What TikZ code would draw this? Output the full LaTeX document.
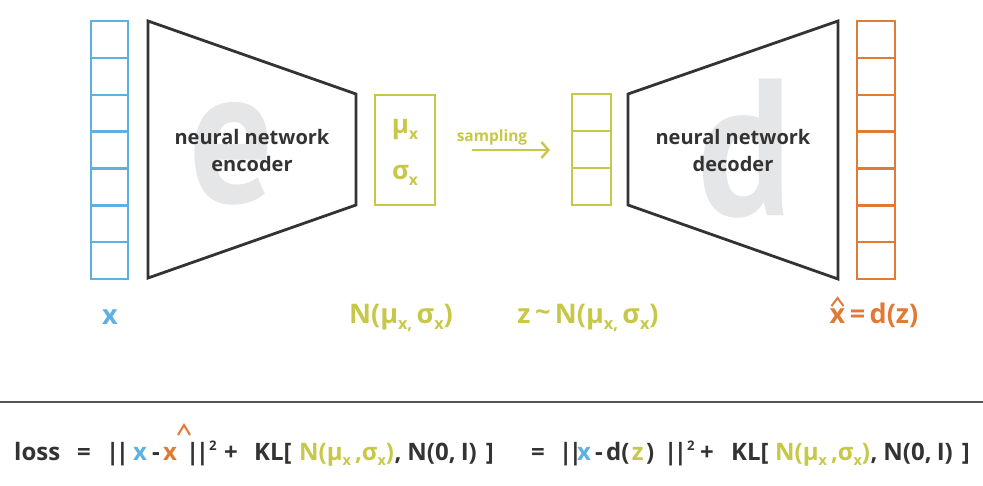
\documentclass[tikz,border=0pt]{standalone}
\usepackage{fontspec}
\setmainfont{Open Sans}
\newfontfamily\bigfont{PT Sans}
\usetikzlibrary{arrows.meta}
\definecolor{cblue}{RGB}{93,176,226}
\definecolor{cyel}{RGB}{200,200,72}
\definecolor{corg}{RGB}{225,122,52}
\definecolor{cdark}{RGB}{51,51,51}
\definecolor{cbig}{RGB}{229,230,232}
\definecolor{cline}{RGB}{85,85,85}
\newcommand\sbx[1]{\raisebox{-0.45ex}{\scalebox{0.6}{#1}}}
\newcommand\spt[1]{\raisebox{0.75ex}{\scalebox{0.55}{#1}}}
\newcommand\dbar{|\kern-3.5pt|}
\begin{document}
\begin{tikzpicture}[x=1pt,y=-1pt,
  cellb/.style={line width=2.4pt},
  trap/.style={draw=cdark,line width=2.8pt,line join=miter},
  big/.style={text=cbig,inner sep=0pt,anchor=base,font=\bigfont\fontsize{195}{195}\selectfont\bfseries},
  nn/.style={text=cdark,align=center,inner sep=0pt,font=\fontsize{20}{27}\selectfont\bfseries},
  lab/.style={inner sep=0pt,anchor=base,font=\fontsize{27}{27}\selectfont\bfseries},
  ftxt/.style={inner sep=0pt,anchor=base west,text=cdark,font=\fontsize{24}{24}\selectfont\bfseries},
  hat/.style={line width=2pt,line join=miter}
]
\useasboundingbox (0,0) rectangle (983,485);
\fill[white] (0,0) rectangle (983,485);

% big background letters
\node[big] (bige) at (232,202) {\scalebox{0.85}[1]{e}};
\node[big] (bigd) at (745,215) {\scalebox{0.9}[1]{d}};

% input column
\foreach \i in {0,...,6} \draw[cblue,cellb] (91,{21+\i*36.86}) rectangle ++(37,36.86);
% output column
\foreach \i in {0,...,6} \draw[corg,cellb] (857,{21+\i*36.86}) rectangle ++(38,36.86);

% encoder / decoder trapezoids
\draw[trap] (148,21) -- (356,94) -- (356,205) -- (148,278) -- cycle;
\draw[trap] (628,94) -- (838,21) -- (838,279) -- (628,205) -- cycle;

\node[nn] (enc) at (252,150) {neural network\\encoder};
\node[nn] (dec) at (733,150) {neural network\\decoder};

% mu sigma box
\draw[cyel,cellb] (375,95) rectangle (435,205);
\node[lab,text=cyel,font=\fontsize{26}{26}\selectfont\bfseries] (mu) at (405,133) {μ\sbx{x}};
\node[lab,text=cyel,font=\fontsize{26}{26}\selectfont\bfseries] (sig) at (405,179) {σ\sbx{x}};

% latent column
\foreach \i in {0,1,2} \draw[cyel,cellb] (572,{94+\i*37}) rectangle ++(39,37);

% sampling arrow
\coordinate (sa) at (472,150);
\coordinate (sb) at (550,150);
\draw[cyel,line width=2.4pt,-{Straight Barb[length=7pt,width=16pt,line width=2.4pt]}] (sa) -- (sb);
\node[inner sep=0pt,anchor=base,text=cyel,font=\fontsize{15.5}{15.5}\selectfont\bfseries] (samp) at (492,141) {sampling};

% labels under
\node[lab,text=cblue] (lx) at (110,324) {x};
\node[lab,text=cyel] (lN) at (401,323) {N(μ\sbx{x,}\,σ\sbx{x})};
\node[lab,text=cyel] (lz) at (588,323) {z\,\raisebox{0.1ex}{\char`~}\,N(μ\sbx{x,}\,σ\sbx{x})};
\node[lab,text=corg] (lxh) at (874,323) {x\,=\,d(z)};
\draw[corg,hat] ([xshift=2pt,yshift=17pt]lxh.base west) -- ++(6,-8) -- ++(6,8);

% separator line
\draw[cline,line width=1.3pt] (0,402) -- (983,402);

% formula
\begin{scope}
\clip (0,403) rectangle (983,485);
\node[ftxt] (f1) at (14,460) {loss};
\node[ftxt] (f2) at (77,460) {=};
\node[ftxt] (f3) at (106,460) {\dbar};
\node[ftxt,text=cblue] (f4) at (133,460) {x};
\node[ftxt] (f5) at (152,460) {-};
\node[ftxt,text=corg] (f6) at (163,460) {x};
\draw[corg,hat] (178,435) -- (184,425) -- (190,435);
\node[ftxt] (f7) at (186,460) {\dbar\spt{2}};
\node[ftxt] (f8) at (224,460) {+};
\node[ftxt] (f9) at (254,460) {KL[};
\node[ftxt,text=cyel] (f10) at (299,460) {N(μ\sbx{x}\,,σ\sbx{x})};
\node[ftxt] (f11) at (f10.base east) {,\hspace{6pt}N(0,\hspace{5pt}I)\hspace{9pt}]};
\node[ftxt] (f12) at (531,460) {=};
\node[ftxt] (f13) at (559,460) {\dbar};
\node[ftxt,text=cblue] (f14) at (577,460) {x};
\node[ftxt] (f15) at (595,460) {-};
\node[ftxt] (f16) at (606,460) {d(\kern2pt};
\node[ftxt,text=cyel] (f17) at (f16.base east) {z};
\node[ftxt] (f18) at (f17.base east) {\kern2pt)};
\node[ftxt] (f19) at (664,460) {\dbar\spt{2}};
\node[ftxt] (f20) at (700,460) {+};
\node[ftxt] (f21) at (731,460) {KL[};
\node[ftxt,text=cyel] (f22) at (775,460) {N(μ\sbx{x}\,,σ\sbx{x})};
\node[ftxt] (f23) at (f22.base east) {,\hspace{6pt}N(0,\hspace{5pt}I)\hspace{9pt}]};
\end{scope}
\end{tikzpicture}
\end{document}
